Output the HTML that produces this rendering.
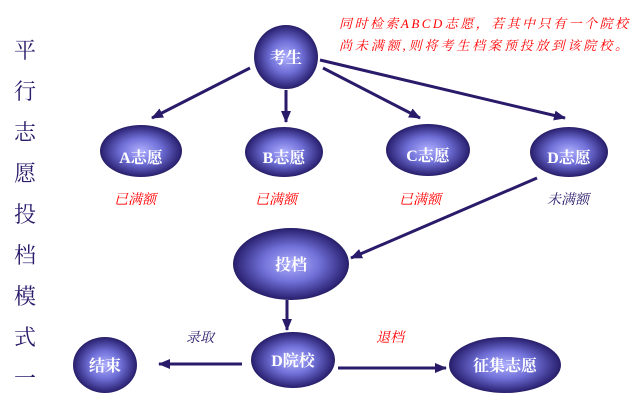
<!DOCTYPE html>
<html><head><meta charset="utf-8"><style>
body{margin:0;background:#fff;width:640px;height:406px;overflow:hidden}
svg text{font-family:"Liberation Serif","Noto Serif CJK SC","Noto Sans CJK SC",serif}
</style></head><body>
<svg width="640" height="406" viewBox="0 0 640 406" xmlns="http://www.w3.org/2000/svg">
<defs>
<radialGradient id="g" cx="50%" cy="50%" r="55%">
<stop offset="0" stop-color="#b0b0ff"/><stop offset="0.45" stop-color="#7070d8"/><stop offset="0.85" stop-color="#30287a"/><stop offset="1" stop-color="#1a1048"/>
</radialGradient>
<marker id="a" markerWidth="12" markerHeight="10" refX="11" refY="5" orient="auto" markerUnits="userSpaceOnUse"><path d="M0,0 L12,5 L0,10 z" fill="#2a1a6a"/></marker>
</defs>
<g stroke="#2a1a6a" stroke-width="3" fill="none" marker-end="url(#a)">
<line x1="250" y1="68" x2="152" y2="118"/>
<line x1="286" y1="90" x2="286" y2="122"/>
<line x1="323" y1="68" x2="420" y2="118"/>
<line x1="320" y1="60" x2="565" y2="118"/>
<line x1="537" y1="178" x2="351" y2="258"/>
<line x1="287" y1="300" x2="287" y2="330"/>
<line x1="242" y1="364" x2="159" y2="364"/>
<line x1="338" y1="368" x2="446" y2="368"/>
</g>
<g fill="url(#g)">
<ellipse cx="286" cy="57" rx="32" ry="32"/>
<ellipse cx="141" cy="151" rx="41" ry="26"/>
<ellipse cx="284" cy="152" rx="39" ry="25"/>
<ellipse cx="428" cy="150" rx="42" ry="26"/>
<ellipse cx="569" cy="152" rx="39" ry="25"/>
<ellipse cx="291" cy="264" rx="58" ry="36"/>
<ellipse cx="293" cy="360" rx="42" ry="28"/>
<ellipse cx="105" cy="365" rx="32" ry="28"/>
<ellipse cx="505" cy="365" rx="56" ry="28"/>
</g>
<g fill="#fff" font-size="16" font-weight="bold" text-anchor="middle">
<text x="286" y="63">考生</text>
<text x="141" y="163">A志愿</text>
<text x="284" y="163">B志愿</text>
<text x="428" y="161">C志愿</text>
<text x="569" y="163">D志愿</text>
<text x="291" y="270">投档</text>
<text x="293" y="366">D院校</text>
<text x="105" y="371">结束</text>
<text x="505" y="371">征集志愿</text>
</g>
<g font-size="14" font-style="italic" text-anchor="middle" font-family="Liberation Sans,Noto Sans CJK SC,sans-serif">
<text x="135" y="204" fill="#f00">已满额</text>
<text x="276" y="204" fill="#f00">已满额</text>
<text x="420" y="204" fill="#f00">已满额</text>
<text x="568" y="204" fill="#2a1a6a">未满额</text>
<text x="200" y="342" fill="#2a1a6a">录取</text>
<text x="390" y="342" fill="#f00">退档</text>
</g>
<g font-size="13" font-style="italic" fill="#f00" font-family="Liberation Sans,Noto Sans CJK SC,sans-serif">
<text x="339" y="28" textLength="289">同时检索ABCD志愿，若其中只有一个院校</text>
<text x="339" y="50" textLength="289">尚未满额,则将考生档案预投放到该院校。</text>
</g>
<g font-size="22" fill="#2a1a6a" text-anchor="middle" font-family="Liberation Sans,Noto Sans CJK SC,sans-serif">
<text x="25" y="58">平</text>
<text x="25" y="99">行</text>
<text x="25" y="140">志</text>
<text x="25" y="181">愿</text>
<text x="25" y="222">投</text>
<text x="25" y="263">档</text>
<text x="25" y="304">模</text>
<text x="25" y="345">式</text>
<text x="25" y="386">一</text>
</g>
</svg>
</body></html>
